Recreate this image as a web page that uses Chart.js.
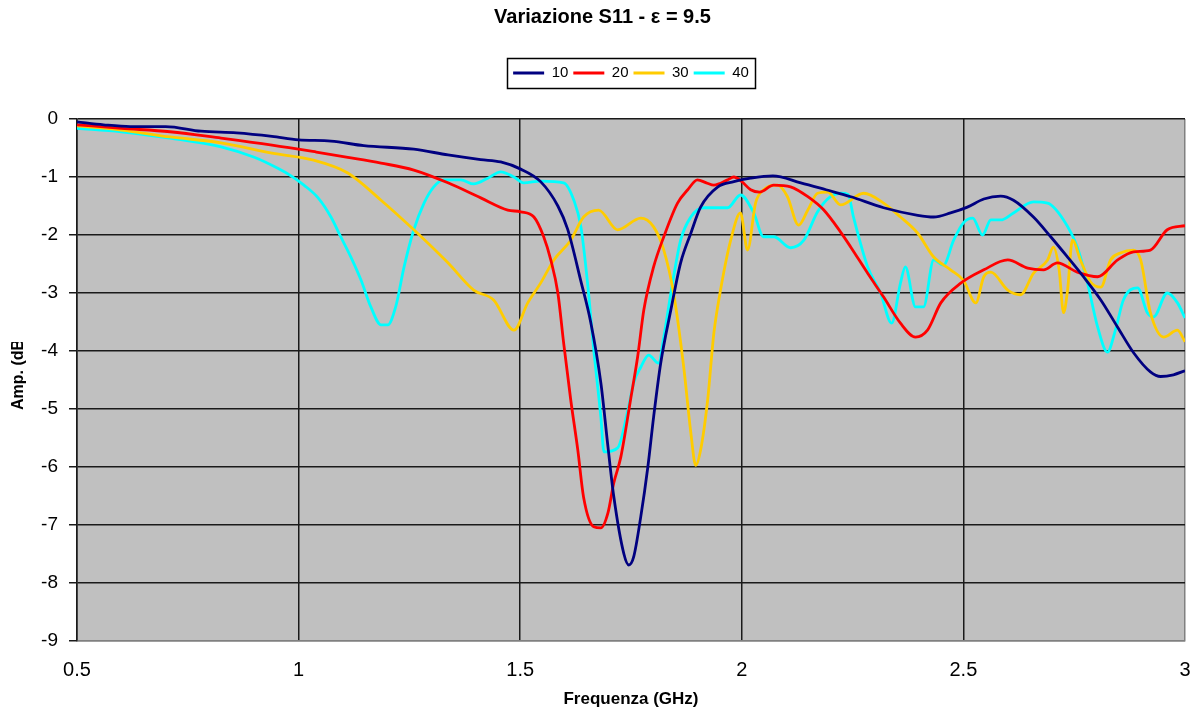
<!DOCTYPE html>
<html><head><meta charset="utf-8">
<script src="https://cdn.jsdelivr.net/npm/chart.js@4.4.1/dist/chart.umd.min.js"></script>
<style>html,body{margin:0;padding:0;background:#fff}canvas{display:block}</style>
</head><body>
<canvas id="c" width="1194" height="715"></canvas>
<script>
const chartTitle = 'Variazione S11 - \u03B5 = 9.5';
const xTitle = 'Frequenza (GHz)';
const yTitle = 'Amp. (dB)';
const seriesNames = ['10', '20', '30', '40'];
const seriesColors = ['#000080', '#FF0000', '#FFCC00', '#00FFFF'];
const xTicks = [0.5, 1, 1.5, 2, 2.5, 3];
const yTicks = [0, -1, -2, -3, -4, -5, -6, -7, -8, -9];

const freq10 = [0.5,0.56,0.62,0.7,0.78,0.86,0.94,1.0,1.073,1.147,1.26,1.337,1.411,1.456,1.5,1.546,1.585,1.607,1.637,1.659,1.682,1.698,1.711,1.734,1.745,1.756,1.772,1.788,1.801,1.817,1.84,1.862,1.885,1.907,1.946,1.982,2.02,2.07,2.133,2.19,2.246,2.32,2.397,2.433,2.471,2.509,2.546,2.584,2.613,2.658,2.697,2.735,2.771,2.81,2.848,2.884,2.922,2.945,2.974,3.0];
const amp10 = [-0.05,-0.10,-0.13,-0.13,-0.21,-0.24,-0.30,-0.36,-0.38,-0.46,-0.52,-0.62,-0.70,-0.74,-0.86,-1.08,-1.50,-1.90,-2.80,-3.50,-4.55,-5.65,-6.50,-7.50,-7.69,-7.55,-6.86,-6.00,-5.14,-4.21,-3.29,-2.48,-1.97,-1.52,-1.17,-1.08,-1.02,-0.98,-1.10,-1.22,-1.34,-1.53,-1.66,-1.69,-1.62,-1.52,-1.38,-1.33,-1.40,-1.69,-2.03,-2.38,-2.72,-3.12,-3.59,-4.03,-4.36,-4.44,-4.41,-4.34];

const freq20 = [0.5,0.6,0.71,0.825,0.94,1.04,1.111,1.186,1.26,1.337,1.411,1.472,1.501,1.531,1.553,1.569,1.585,1.598,1.614,1.63,1.643,1.666,1.682,1.698,1.711,1.727,1.749,1.765,1.779,1.801,1.824,1.855,1.878,1.9,1.92,1.937,1.968,1.982,2.0,2.02,2.04,2.072,2.11,2.149,2.185,2.223,2.246,2.284,2.32,2.358,2.392,2.419,2.449,2.494,2.546,2.6,2.645,2.681,2.712,2.757,2.803,2.848,2.884,2.922,2.96,3.0];
const amp20 = [-0.10,-0.16,-0.22,-0.33,-0.45,-0.57,-0.66,-0.76,-0.88,-1.10,-1.36,-1.57,-1.60,-1.69,-2.03,-2.43,-3.00,-3.86,-4.84,-5.71,-6.52,-7.03,-7.05,-6.79,-6.28,-5.83,-4.84,-4.10,-3.29,-2.55,-2.03,-1.45,-1.22,-1.05,-1.10,-1.14,-1.05,-1.00,-1.08,-1.22,-1.26,-1.14,-1.17,-1.34,-1.57,-1.95,-2.21,-2.66,-3.07,-3.52,-3.76,-3.64,-3.17,-2.83,-2.60,-2.43,-2.57,-2.60,-2.48,-2.64,-2.72,-2.43,-2.29,-2.26,-1.91,-1.84];

const freq30 = [0.5,0.6,0.71,0.825,0.94,1.034,1.111,1.186,1.26,1.337,1.395,1.44,1.486,1.517,1.546,1.576,1.614,1.643,1.677,1.72,1.772,1.801,1.824,1.846,1.869,1.885,1.896,1.907,1.923,1.937,1.952,1.975,1.997,2.013,2.031,2.049,2.081,2.103,2.128,2.149,2.171,2.194,2.223,2.275,2.32,2.358,2.397,2.433,2.471,2.5,2.528,2.546,2.562,2.6,2.629,2.658,2.69,2.703,2.716,2.726,2.735,2.746,2.764,2.787,2.81,2.832,2.854,2.884,2.9,2.922,2.952,2.983,3.0];
const amp30 = [-0.12,-0.19,-0.31,-0.41,-0.59,-0.71,-0.93,-1.40,-1.91,-2.48,-2.95,-3.12,-3.64,-3.17,-2.83,-2.43,-2.09,-1.69,-1.57,-1.91,-1.71,-1.86,-2.26,-3.00,-4.28,-5.41,-5.97,-5.71,-4.84,-3.69,-2.95,-2.09,-1.62,-2.26,-1.45,-1.22,-1.14,-1.34,-1.83,-1.57,-1.28,-1.26,-1.48,-1.28,-1.45,-1.69,-1.97,-2.38,-2.60,-2.78,-3.17,-2.72,-2.64,-2.95,-3.03,-2.66,-2.43,-2.21,-2.60,-3.34,-2.95,-2.09,-2.43,-2.81,-2.90,-2.43,-2.31,-2.26,-2.43,-3.34,-3.76,-3.64,-3.84];

const freq40 = [0.5,0.6,0.71,0.825,0.9,0.953,0.983,1.012,1.044,1.073,1.095,1.118,1.141,1.163,1.186,1.201,1.219,1.238,1.26,1.283,1.305,1.328,1.366,1.395,1.427,1.456,1.486,1.508,1.546,1.598,1.621,1.637,1.652,1.666,1.682,1.689,1.72,1.743,1.756,1.772,1.79,1.812,1.824,1.84,1.862,1.885,1.914,1.968,1.997,2.027,2.049,2.072,2.11,2.14,2.171,2.2,2.223,2.24,2.252,2.284,2.313,2.338,2.358,2.369,2.392,2.41,2.433,2.455,2.478,2.5,2.521,2.543,2.562,2.584,2.613,2.658,2.69,2.726,2.757,2.78,2.803,2.825,2.843,2.861,2.893,2.915,2.929,2.96,2.983,3.0];
const amp40 = [-0.16,-0.22,-0.33,-0.48,-0.66,-0.85,-0.98,-1.14,-1.36,-1.69,-2.03,-2.38,-2.78,-3.24,-3.55,-3.55,-3.24,-2.55,-1.91,-1.45,-1.17,-1.05,-1.05,-1.12,-1.02,-0.91,-1.00,-1.10,-1.07,-1.10,-1.40,-1.86,-2.83,-3.98,-5.14,-5.74,-5.67,-5.02,-4.55,-4.28,-4.07,-4.21,-3.76,-3.00,-2.09,-1.69,-1.53,-1.53,-1.31,-1.62,-2.03,-2.03,-2.22,-2.09,-1.60,-1.34,-1.28,-1.30,-1.69,-2.55,-3.00,-3.52,-2.83,-2.55,-3.24,-3.24,-2.43,-2.52,-2.09,-1.79,-1.71,-2.00,-1.74,-1.74,-1.62,-1.43,-1.45,-1.74,-2.21,-2.83,-3.59,-4.02,-3.64,-3.12,-2.91,-3.34,-3.41,-3.00,-3.17,-3.43];

const freqs = [freq10, freq20, freq30, freq40];
const amps = [amp10, amp20, amp30, amp40];

const FONT = "'Liberation Sans', Arial, sans-serif";

const plotBg = {
  id: 'plotBg',
  beforeDraw(chart) {
    const a = chart.chartArea, c = chart.ctx;
    c.save();
    c.fillStyle = '#FFFFFF';
    c.fillRect(0, 0, chart.width, chart.height);
    c.fillStyle = '#C0C0C0';
    c.fillRect(a.left, a.top, a.right - a.left, a.bottom - a.top);
    c.restore();
  }
};

const legendBorder = {
  id: 'legendBorder',
  afterDraw(chart) {
    const hb = chart.legend && chart.legend.legendHitBoxes;
    if (!hb || !hb.length) return;
    const c = chart.ctx;
    const l = hb[0].left - 6;
    const r = hb[hb.length - 1].left + hb[hb.length - 1].width + 6;
    const t = hb[0].top - 7.5;
    const b = hb[0].top + hb[0].height + 7.5;
    c.save();
    c.strokeStyle = '#000';
    c.lineWidth = 1.5;
    c.strokeRect(Math.round(l) + 0.5, Math.round(t) + 0.5, Math.round(r - l), Math.round(b - t));
    c.restore();
  }
};

const yTitlePlugin = {
  id: 'yTitleClipped',
  afterDraw(chart) {
    const c = chart.ctx;
    c.save();
    c.beginPath();
    c.rect(0, 342, 70, 400);
    c.clip();
    c.translate(19, 410);
    c.rotate(-Math.PI / 2);
    c.font = 'bold 16px ' + FONT;
    c.fillStyle = '#000';
    c.textAlign = 'left';
    c.textBaseline = 'middle';
    c.fillText(yTitle, 0, 0);
    c.restore();
  }
};

const datasets = seriesNames.map((name, i) => ({
  label: name,
  data: freqs[i].map((f, j) => ({ x: f, y: amps[i][j] })),
  borderColor: seriesColors[i],
  backgroundColor: seriesColors[i],
  borderWidth: 2.8,
  pointRadius: 0,
  pointHoverRadius: 0,
  fill: false,
  cubicInterpolationMode: 'monotone'
}));

new Chart(document.getElementById('c'), {
  type: 'line',
  data: { datasets },
  plugins: [plotBg, legendBorder, yTitlePlugin],
  options: {
    responsive: false,
    animation: false,
    events: [],
    layout: { padding: { left: 20, right: 9, top: 0, bottom: 0 } },
    plugins: {
      title: {
        display: true,
        text: chartTitle,
        color: '#000',
        font: { family: FONT, size: 20, weight: 'bold' },
        padding: { top: 5, bottom: 31.5 }
      },
      subtitle: {
        display: true,
        text: '',
        fullSize: false,
        weight: 500,
        font: { family: FONT, size: 10 },
        padding: { top: 0, bottom: 16.5 }
      },
      legend: {
        display: true,
        position: 'top',
        fullSize: false,
        labels: {
          color: '#000',
          font: { family: FONT, size: 15 },
          usePointStyle: true,
          pointStyle: 'line',
          pointStyleWidth: 31,
          padding: 5
        }
      },
      tooltip: { enabled: false }
    },
    scales: {
      x: {
        type: 'linear',
        min: 0.5,
        max: 3,
        afterBuildTicks: s => { s.ticks = xTicks.map(v => ({ value: v })); },
        afterFit: s => { s.height = 74; s.paddingLeft = 0; s.paddingRight = 0; },
        ticks: {
          color: '#000',
          font: { family: FONT, size: 20 },
          padding: 17,
          maxRotation: 0,
          callback: v => String(v)
        },
        grid: {
          color: ctx => (ctx.tick && ctx.tick.value === 3) ? '#808080' : '#1a1a1a',
          lineWidth: 1.5,
          drawTicks: false
        },
        border: { display: true, color: '#808080', width: 1.5 },
        title: {
          display: true,
          text: xTitle,
          color: '#000',
          font: { family: FONT, size: 17, weight: 'bold' },
          padding: { top: 0, bottom: 5 }
        }
      },
      y: {
        type: 'linear',
        min: -9,
        max: 0,
        afterBuildTicks: s => { s.ticks = yTicks.map(v => ({ value: v })); },
        afterFit: s => { s.width = 57; s.paddingTop = 0; s.paddingBottom = 0; },
        ticks: {
          color: '#000',
          font: { family: FONT, size: 19 },
          padding: 11,
          callback: v => String(v)
        },
        grid: {
          color: ctx => (ctx.tick && ctx.tick.value === -9) ? '#808080' : '#1a1a1a',
          lineWidth: 1.5,
          drawTicks: true,
          tickLength: 8,
          tickColor: '#1a1a1a'
        },
        border: { display: true, color: '#1a1a1a', width: 1.5 },
        title: { display: false }
      }
    }
  }
});
</script>
</body></html>
